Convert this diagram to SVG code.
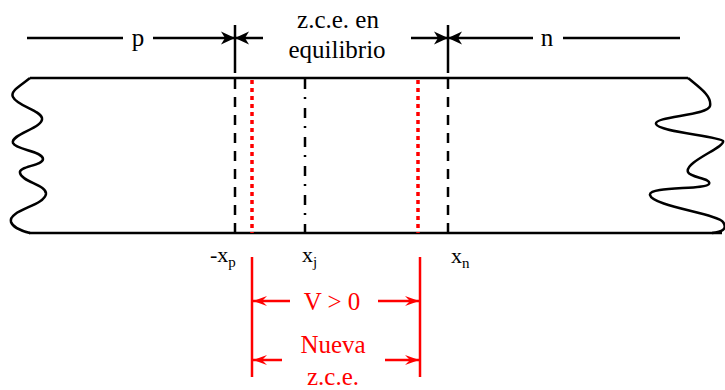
<svg xmlns="http://www.w3.org/2000/svg" width="725" height="390" viewBox="0 0 725 390">
<style>
.blk{stroke:#000;stroke-width:2.5;fill:none}
.red{stroke:#ff0000;stroke-width:2.5;fill:none}
.dash{stroke:#000;stroke-width:2.5;stroke-dasharray:10 8;fill:none}
.dashdot{stroke:#000;stroke-width:2.5;stroke-dasharray:10 8 2 9;fill:none}
.dot{stroke:#ff0000;stroke-width:3.5;stroke-dasharray:4 4;fill:none}
text{font-family:"Liberation Serif","Times New Roman",serif;fill:#000}
.t{font-size:25px;text-anchor:middle}
.lab{font-size:22px}
.sub{font-size:15px}
.rt{font-size:25px;text-anchor:middle;fill:#ff0000}
</style>
<defs>
<marker id="ab" markerUnits="userSpaceOnUse" markerWidth="16" markerHeight="14" refX="14" refY="7" orient="auto" viewBox="0 0 16 14">
<path d="M14,7 L0,0.5 L4,7 L0,13.5 Z" fill="#000"/>
</marker>
<marker id="ar" markerUnits="userSpaceOnUse" markerWidth="16" markerHeight="12" refX="14" refY="6" orient="auto" viewBox="0 0 16 12">
<path d="M14,6 L0,1 L5,6 L0,11 Z" fill="#ff0000"/>
</marker>
</defs>
<g id="bar">
<path class="blk" d="M30,78 L688,78"/>
<path class="blk" d="M29,233 L722,233"/>
<path class="blk" d="M30,78 C20,86 10,91 13,97 C17,106 40,110 42,118 C44,128 10,134 13,143 C16,150 43,151 43,159 C43,166 18,166 20,173 C22,182 47,185 46,194 C44,206 8,210 11,222 C13,228 22,231 30,233"/>
<path class="blk" d="M688,78 C700,88 712,96 710,106 C708,116 654,116 656,124 C658,132 720,136 723,141 C726,147 684,162 688,172 C690,178 712,178 709,184 C706,190 648,186 650,195 C652,206 718,214 723,222 C728,229 722,232 712,233"/>
</g>
<g id="xp-line">
<path class="blk" d="M235,25 L235,73"/>
<path class="dash" d="M235,79 L235,233"/>
</g>
<g id="xn-line">
<path class="blk" d="M448,25 L448,73"/>
<path class="dash" d="M448,79 L448,233"/>
</g>
<g id="xj-line">
<path class="dashdot" d="M305,79 L305,233"/>
</g>
<g id="red-dotted">
<path class="dot" d="M252,80 L252,233"/>
<path class="dot" d="M418,80 L418,233"/>
</g>
<g id="red-bounds">
<path class="red" d="M252,257 L252,377"/>
<path class="red" d="M420,257 L420,377"/>
</g>
<g id="connectors">
<path class="blk" d="M27,38 L123,38"/>
<path class="blk" d="M153,38 L235,38" marker-end="url(#ab)"/>
<path class="blk" d="M263,38 L235,38" marker-end="url(#ab)"/>
<path class="blk" d="M411,38 L448,38" marker-end="url(#ab)"/>
<path class="blk" d="M533,38 L448,38" marker-end="url(#ab)"/>
<path class="blk" d="M563,38 L680,38"/>
<path class="red" d="M290,301 L253,301" marker-end="url(#ar)"/>
<path class="red" d="M378,301 L419,301" marker-end="url(#ar)"/>
<path class="red" d="M282,360 L253,360" marker-end="url(#ar)"/>
<path class="red" d="M385,360 L419,360" marker-end="url(#ar)"/>
</g>
<g id="labels">
<text class="t" x="138" y="46">p</text>
<text class="t" x="547" y="46">n</text>
<text class="t" x="338" y="28">z.c.e. en</text>
<text class="t" x="337" y="58">equilibrio</text>
<text class="lab" x="210" y="262">-x<tspan class="sub" dy="5">p</tspan></text>
<text class="lab" x="302" y="262">x<tspan class="sub" dy="5">j</tspan></text>
<text class="lab" x="451" y="263">x<tspan class="sub" dy="5">n</tspan></text>
<text class="rt" x="332" y="310">V &gt; 0</text>
<text class="rt" x="333" y="353">Nueva</text>
<text class="rt" x="333" y="385">z.c.e.</text>
</g>
</svg>
